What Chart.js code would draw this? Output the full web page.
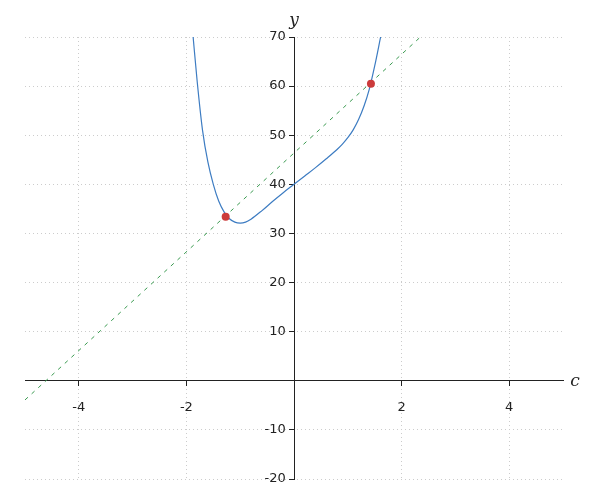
<!DOCTYPE html>
<html>
<head>
<meta charset="utf-8">
<script src="https://cdn.jsdelivr.net/npm/chart.js@4.4.0/dist/chart.umd.min.js"></script>
<style>
  html, body { margin: 0; padding: 0; background: #fff; }
  #wrap { width: 600px; height: 500px; }
</style>
</head>
<body>
<div id="wrap"><canvas id="grafico"></canvas></div>
<script>
// Curva
const curvaX = [-1.875, -1.8, -1.7, -1.6, -1.5, -1.4, -1.3, -1.2, -1.1, -1.0, -0.9, -0.8, -0.6, -0.4, -0.2, 0, 0.2, 0.4, 0.6, 0.8, 0.9, 1.0, 1.1, 1.2, 1.3, 1.4, 1.5, 1.61];
const curvaY = [70, 61, 51, 44.5, 40, 36.6, 34.4, 33.0, 32.3, 32.1, 32.3, 32.9, 34.6, 36.5, 38.3, 40, 41.7, 43.4, 45.2, 47.1, 48.2, 49.5, 51.1, 53.2, 55.9, 59.4, 64.1, 70];

// Recta discontinua
const rectaX = [-5, 2.35];
const rectaY = [-3.9, 70];

// Puntos de corte
const puntosX = [-1.27, 1.43];
const puntosY = [33.4, 60.5];

// Marcas de los ejes
const ticksX = [-4, -2, 0, 2, 4];
const ticksY = [-20, -10, 0, 10, 20, 30, 40, 50, 60, 70];

function pares(xs, ys) {
    return xs.map((x, i) => ({ x: x, y: ys[i] }));
}

// Etiquetas "c" e "y" en los extremos de los ejes
const etiquetasEjes = {
    id: 'etiquetasEjes',
    afterDraw(chart) {
        const ctx = chart.ctx;
        const sx = chart.scales.x, sy = chart.scales.y;
        const x0 = sx.getPixelForValue(0);
        const y0 = sy.getPixelForValue(0);
        ctx.save();
        ctx.fillStyle = '#222';
        ctx.font = 'italic 17px "DejaVu Serif", "Liberation Serif", serif';
        ctx.textAlign = 'center';
        ctx.textBaseline = 'middle';
        ctx.fillText('y', x0, sy.top - 16);
        ctx.fillText('c', sx.right + 12, y0 + 1);
        ctx.restore();
    }
};

const ejeComun = {
    type: 'linear',
    grid: {
        color: '#cccccc',
        lineWidth: 1,
        drawTicks: true,
        tickLength: 5,
        tickColor: '#222',
        tickWidth: 1
    },
    border: { display: true, color: '#222', width: 1, dash: [1, 3] },
    ticks: {
        color: '#222',
        font: { family: '"DejaVu Sans"', size: 13 }
    }
};

const ctx = document.getElementById('grafico').getContext('2d');
new Chart(ctx, {
    type: 'scatter',
    data: {
        datasets: [
            {
                label: 'puntos',
                data: pares(puntosX, puntosY),
                showLine: false,
                pointRadius: 4,
                pointBackgroundColor: '#cc3b3b',
                pointBorderWidth: 0,
                order: 0
            },
            {
                label: 'recta',
                data: pares(rectaX, rectaY),
                showLine: true,
                borderColor: '#3a9a50',
                borderWidth: 1,
                borderDash: [4, 5],
                pointRadius: 0,
                order: 1
            },
            {
                label: 'curva',
                data: pares(curvaX, curvaY),
                showLine: true,
                borderColor: '#3d7cc2',
                borderWidth: 1.2,
                cubicInterpolationMode: 'monotone',
                pointRadius: 0,
                order: 2
            }
        ]
    },
    options: {
        responsive: true,
        maintainAspectRatio: false,
        animation: false,
        layout: { padding: { left: 25, right: 37, top: 37, bottom: 21 } },
        plugins: {
            legend: { display: false },
            tooltip: { enabled: false }
        },
        scales: {
            x: Object.assign({}, ejeComun, {
                min: -5, max: 5,
                position: { y: 0 },
                afterBuildTicks: eje => { eje.ticks = ticksX.map(v => ({ value: v })); },
                ticks: Object.assign({}, ejeComun.ticks, {
                    padding: 14, maxRotation: 0,
                    callback: v => (v === 0 ? '' : String(v))
                })
            }),
            y: Object.assign({}, ejeComun, {
                min: -20, max: 70,
                position: { x: 0 },
                afterBuildTicks: eje => { eje.ticks = ticksY.map(v => ({ value: v })); },
                ticks: Object.assign({}, ejeComun.ticks, {
                    // el eje centrado no aplica padding: se separa con espacios
                    callback: v => (v === 0 ? '' : String(v) + '  ')
                })
            })
        }
    },
    plugins: [etiquetasEjes]
});
</script>
</body>
</html>
